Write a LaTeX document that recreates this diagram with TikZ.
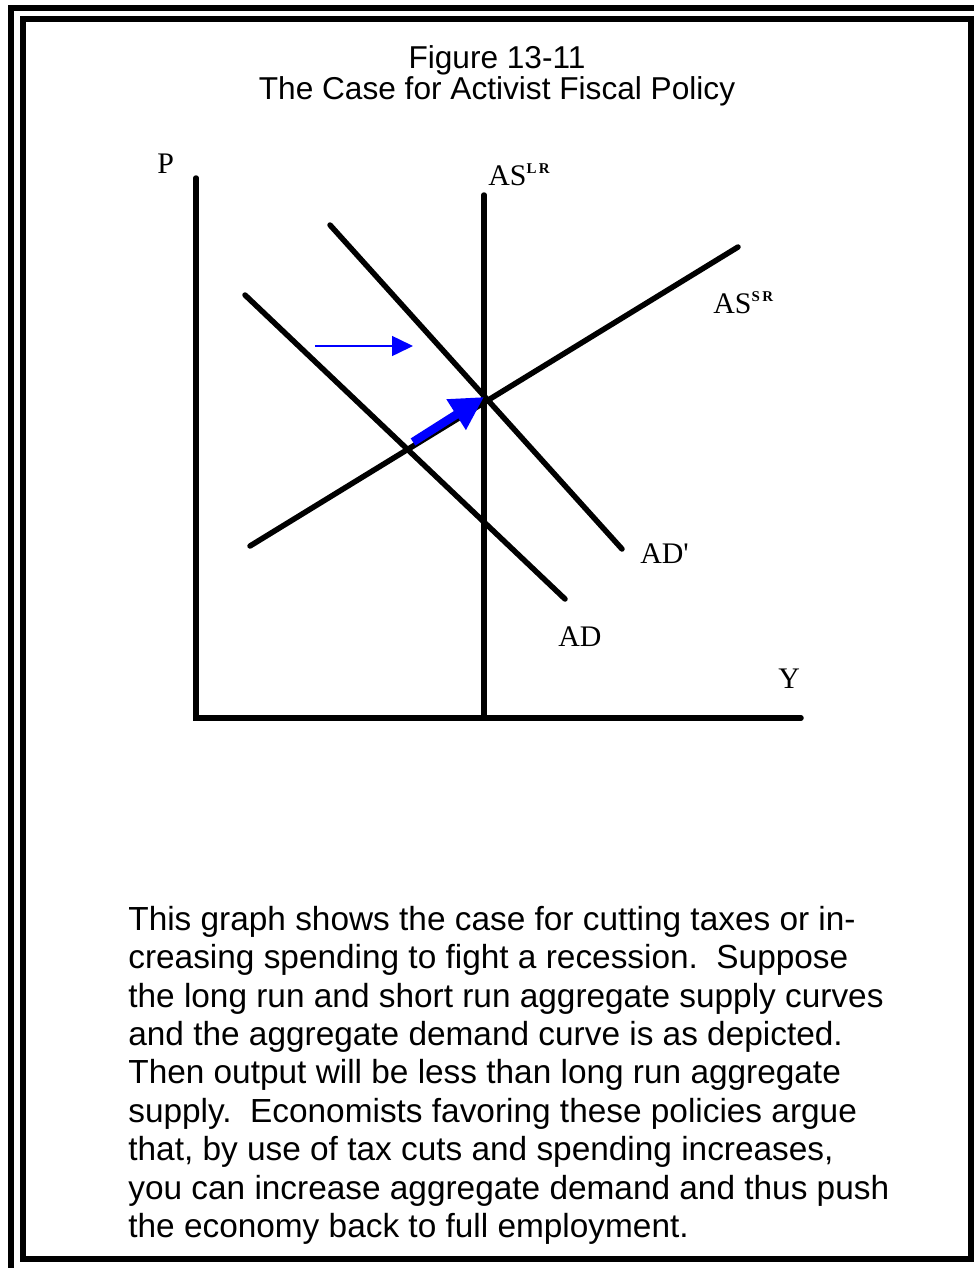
\documentclass[tikz,border=0pt]{standalone}
\usepackage{fontspec}
\setmainfont{Liberation Serif}
\newfontfamily\capfont{Liberation Sans}
\usetikzlibrary{arrows.meta, positioning}
\newcommand{\supr}[1]{\raisebox{6.5pt}{\fontsize{8.5pt}{8.5pt}\selectfont\bfseries #1}}
\tikzset{
    box frame/.style={line width=0.12cm},
    axis line/.style={line width=0.11cm, line cap=round},
    curve/.style={line width=0.11cm, line cap=round},
    curve label/.style={inner sep=0pt, anchor=base west, font=\fontsize{17pt}{20pt}\selectfont},
    shift arrow/.style={draw=blue, line width=0.03cm, -{Triangle[length=0.42cm, width=0.4cm]}},
    move arrow/.style={draw=blue, line width=0.17cm, -{Triangle[length=0.66cm, width=0.68cm]}},
    fig title/.style={inner sep=0pt, anchor=north, align=center, font=\capfont\fontsize{18pt}{15.9pt}\selectfont},
    caption/.style={inner sep=0pt, anchor=north west, align=left, font=\capfont\fontsize{19pt}{21.9pt}\selectfont}
}

\begin{document}
\begin{tikzpicture}[x=0.02cm, y=-0.02cm]
    \useasboundingbox (0,0) rectangle (974,1268);

    % Frame
    \draw[box frame] (11,1268) -- (11,8) -- (974,8);
    \draw[box frame] (23,19) rectangle (971,1259);

    % Title
    \node[fig title] (title) at (497,45) {Figure 13-11\\The Case for Activist Fiscal Policy};

    % Axes
    \coordinate (ptop) at (196,178);
    \coordinate (origin) at (196,718);
    \coordinate (yend) at (801,718);
    \draw[axis line] (ptop) -- (origin) -- (yend);
    \node[curve label] (plabel) at (157,173) {P};
    \node[curve label] (ylabel) at (778,688) {Y};

    % Long run supply
    \coordinate (lrtop) at (484,195);
    \coordinate (lrbot) at (484,718);
    \draw[curve] (lrtop) -- (lrbot);
    \node[curve label] (lrlabel) at (488,185) {AS\supr{L\,R}};

    % Short run supply
    \coordinate (srlow) at (250,546);
    \coordinate (srhigh) at (738,247);
    \draw[curve] (srlow) -- (srhigh);
    \node[curve label] (srlabel) at (713,313) {AS\supr{S\,R}};

    % Demand curves
    \coordinate (adtop) at (245,295);
    \coordinate (adbot) at (565,599);
    \draw[curve] (adtop) -- (adbot);
    \node[curve label] (adlabel) at (558,646) {AD};

    \coordinate (adptop) at (330,225);
    \coordinate (adpbot) at (622,549);
    \draw[curve] (adptop) -- (adpbot);
    \node[curve label] (adplabel) at (640,563) {AD\textquotesingle};

    % Shifts
    \coordinate (eq) at (484,397);
    \coordinate (shiftstart) at (315,346);
    \coordinate (shiftend) at (413,346);
    \draw[shift arrow] (shiftstart) -- (shiftend);
    \coordinate (movestart) at (413,442);
    \draw[move arrow] (movestart) -- (eq);

    % Text
    \node[caption] (text) at (128,905.5) {This graph shows the case for cutting taxes or in-\\
        creasing spending to fight a recession.\ \ Suppose\\
        the long run and short run aggregate supply curves\\
        and the aggregate demand curve is as depicted.\\
        Then output will be less than long run aggregate\\
        supply.\ \ Economists favoring these policies argue\\
        that, by use of tax cuts and spending increases,\\
        you can increase aggregate demand and thus push\\
        the economy back to full employment.};
\end{tikzpicture}
\end{document}
